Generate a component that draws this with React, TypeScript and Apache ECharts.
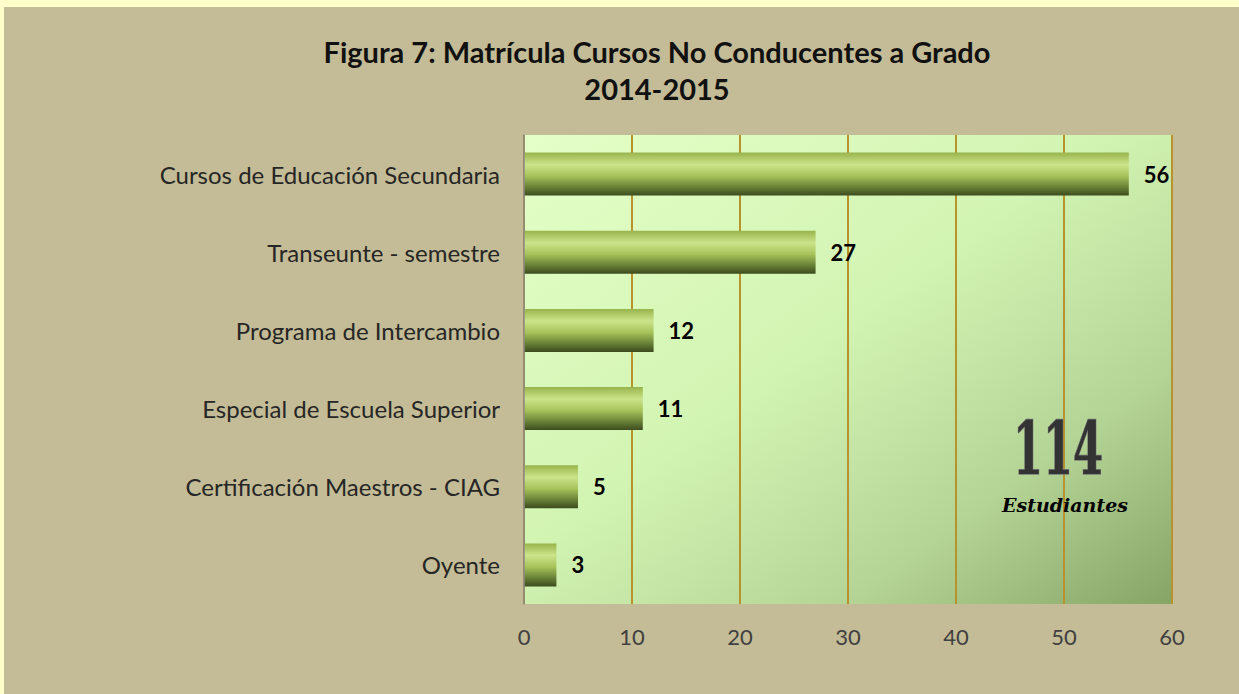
import React, { useEffect, useRef } from "react";
import * as echarts from "echarts";

const categories = [
  "Cursos de Educación Secundaria",
  "Transeunte - semestre",
  "Programa de Intercambio",
  "Especial de Escuela Superior",
  "Certificación Maestros - CIAG",
  "Oyente",
];
const values = [56, 27, 12, 11, 5, 3];
const xTicks = { min: 0, max: 60, interval: 10 };
const titleLines = ["Figura 7: Matrícula Cursos No Conducentes a Grado", "2014-2015"];
const totalLabel = "114";
const totalCaption = "Estudiantes";

const FONT = "Lato, 'Open Sans', sans-serif";

export default function App() {
  const ref = useRef<HTMLDivElement>(null);
  useEffect(() => {
    if (!ref.current) return;
    const chart = echarts.init(ref.current, null, { renderer: "svg" });
    const barGrad = new echarts.graphic.LinearGradient(0, 0, 0, 1, [
      { offset: 0, color: "#98B44C" },
      { offset: 0.28, color: "#CCE48A" },
      { offset: 0.55, color: "#A6C25A" },
      { offset: 0.82, color: "#647C34" },
      { offset: 1, color: "#3C4C1E" },
    ]);
    const plotGrad = new echarts.graphic.LinearGradient(0, 0, 1, 1, [
      { offset: 0, color: "#E4FFC8" },
      { offset: 0.45, color: "#D2F4B2" },
      { offset: 0.75, color: "#B4D496" },
      { offset: 1, color: "#86A466" },
    ]);
    chart.setOption({
      animation: false,
      backgroundColor: "#FFFFCC",
      textStyle: { fontFamily: FONT },
      title: {
        text: titleLines.join("\n"),
        left: 652,
        textAlign: "center",
        top: 28,
        textStyle: {
          fontFamily: FONT,
          fontSize: 29,
          fontWeight: "bold",
          color: "#111",
          lineHeight: 37,
        },
      },
      graphic: [
        {
          type: "rect",
          z: -10,
          silent: true,
          shape: { x: 4, y: 7, width: 1235, height: 687 },
          style: { fill: "#C4BC96" },
        },
        {
          type: "text",
          z: 100,
          x: 1058,
          y: 449,
          scaleX: 0.6,
          style: {
            text: totalLabel,
            fontFamily: "'DejaVu Serif', serif",
            fontWeight: "bold",
            fontSize: 72,
            fill: "#333333",
            stroke: "#7A7A7A",
            lineWidth: 1.5,
            align: "center",
            verticalAlign: "middle",
            shadowColor: "rgba(0,0,0,0.5)",
            shadowOffsetX: 2,
            shadowOffsetY: 2,
            shadowBlur: 2,
          },
        },
        {
          type: "text",
          z: 100,
          x: 1065,
          y: 505,
          style: {
            text: totalCaption,
            fontFamily: "'DejaVu Serif', serif",
            fontStyle: "italic",
            fontWeight: "bold",
            fontSize: 19,
            fill: "#000",
            align: "center",
            verticalAlign: "middle",
          },
        },
      ],
      grid: {
        left: 524,
        right: 67,
        top: 135,
        bottom: 90,
        show: true,
        backgroundColor: plotGrad,
        borderWidth: 0,
      },
      xAxis: {
        type: "value",
        min: xTicks.min,
        max: xTicks.max,
        interval: xTicks.interval,
        axisLine: { show: false },
        axisTick: { show: false },
        axisLabel: { color: "#404040", fontSize: 22, margin: 21, fontFamily: FONT },
        splitLine: { show: true, lineStyle: { color: "#B8922A", width: 2 } },
      },
      yAxis: {
        type: "category",
        data: categories,
        inverse: true,
        axisLine: { show: true, lineStyle: { color: "#8A8A8A", width: 1.5 } },
        axisTick: { show: false },
        axisLabel: { color: "#262626", fontSize: 24, margin: 24, fontFamily: FONT },
        z: 5,
      },
      series: [
        {
          type: "bar",
          data: values,
          barWidth: 43,
          itemStyle: { color: barGrad },
          label: {
            show: true,
            position: "right",
            distance: 15,
            color: "#000",
            fontWeight: "bold",
            fontSize: 22,
            fontFamily: FONT,
          },
        },
      ],
    });
    return () => chart.dispose();
  }, []);
  return (
    <div style={{ position: "fixed", left: 0, top: 0, width: 1239, height: 694 }}>
      <div ref={ref} style={{ width: 1239, height: 694 }} />
    </div>
  );
}
